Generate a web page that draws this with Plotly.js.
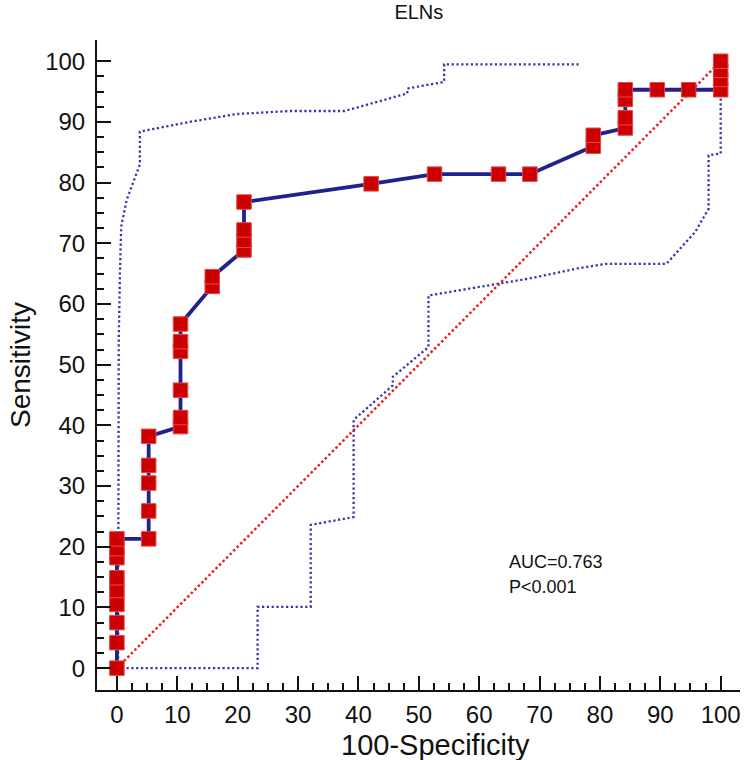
<!DOCTYPE html>
<html>
<head>
<meta charset="utf-8">
<script src="https://cdn.plot.ly/plotly-3.0.1.min.js"></script>
<style>html,body{margin:0;padding:0;background:#fff;}#chart{width:752px;height:760px;}</style>
</head>
<body>
<div id="chart"></div>
<script>
// ROC curve points (100-Specificity, Sensitivity)
const rocX = [0,0,0,0,0,0,0,0,0,
  5.26,5.26,5.26,5.26,5.26,
  10.53,10.53,10.53,10.53,10.53,10.53,
  15.79,15.79,
  21.05,21.05,21.05,21.05,
  42.1,52.6,63.2,68.4,
  78.9,78.9,
  84.2,84.2,84.2,84.2,
  89.5,94.7,
  100,100,100,100];
const rocY = [0,4.2,7.5,10.5,12.8,14.9,18.2,19.7,21.3,
  21.3,25.9,30.5,33.4,38.2,
  39.8,41.3,45.8,52.2,53.8,56.7,
  62.9,64.5,
  68.9,70.5,72.2,76.8,
  79.8,81.4,81.4,81.4,
  86.0,87.8,
  89.0,90.7,93.7,95.3,
  95.3,95.3,
  95.3,97.0,98.5,100];

// Upper confidence bound
const upperX = [0.2,0.3,0.5,0.7,1.6,3.3,3.8,3.8,4.3,12,19.8,28.6,37.7,48.1,48.1,54.2,54.2,76.8];
const upperY = [0,54,65,72.7,77.1,81.5,83,88.4,88.5,90,91.3,91.8,91.8,94.7,95.5,96.6,99.5,99.5];

// Lower confidence bound
const lowerX = [0,23.3,23.3,32.1,32.1,39.2,39.2,45.7,45.7,51.6,51.6,63.3,68.3,76.5,80.9,91,95.8,98,98,100,100];
const lowerY = [0,0,10.1,10.1,23.6,24.9,40.9,46.6,48,52.9,61.4,63.4,64.2,65.9,66.6,66.6,71.9,75.7,84.5,84.8,94.1];

// Reference diagonal
const diagX = [0,100];
const diagY = [0,100];

const majorTicks = [0,10,20,30,40,50,60,70,80,90,100];
const tickLabels = ['0','10','20','30','40','50','60','70','80','90','100'];
const minorTicks = [];
for (let v = 2.5; v < 100; v += 2.5) { if (v % 10 !== 0) minorTicks.push(v); }

const FONT = 'Liberation Sans, Arial, Helvetica, sans-serif';

const traces = [
  {x: upperX, y: upperY, mode: 'lines', hoverinfo: 'skip',
   line: {color: '#3535aa', width: 2.3, dash: '2.2px,2.6px'}},
  {x: lowerX, y: lowerY, mode: 'lines', hoverinfo: 'skip',
   line: {color: '#3535aa', width: 2.3, dash: '2.2px,2.6px'}},
  {x: diagX, y: diagY, mode: 'lines', hoverinfo: 'skip',
   line: {color: '#ee1c1c', width: 2.5, dash: '2.4px,2.6px'}},
  {x: rocX, y: rocY, mode: 'lines+markers',
   line: {color: '#20208f', width: 3.8},
   marker: {symbol: 'square', size: 14.5, color: '#cc0000', line: {color: '#e04848', width: 1}}}
];

const axisCommon = {
  tickmode: 'array', tickvals: majorTicks, ticktext: tickLabels,
  ticks: 'inside', ticklen: 14, tickwidth: 2, tickcolor: '#111',
  showline: true, linewidth: 2, linecolor: '#111',
  showgrid: false, zeroline: false,
  tickfont: {family: FONT, size: 24, color: '#111'},
  minor: {tickmode: 'array', tickvals: minorTicks, ticks: 'inside', ticklen: 7, tickwidth: 2, tickcolor: '#111', showgrid: false}
};

const layout = {
  width: 752, height: 760,
  margin: {l: 97, r: 12, t: 40, b: 70},
  paper_bgcolor: '#fff', plot_bgcolor: '#fff',
  showlegend: false,
  title: {text: 'ELNs', font: {family: FONT, size: 20, color: '#111'},
          xref: 'container', x: 0.557, xanchor: 'center', yref: 'container', y: 0.984, yanchor: 'middle'},
  xaxis: Object.assign({}, axisCommon, {
    range: [-3.3, 103.2],
    ticklabelstandoff: 2
  }),
  yaxis: Object.assign({}, axisCommon, {
    range: [-3.6, 103.5],
    ticklabelstandoff: 5,
    title: {text: 'Sensitivity', font: {family: FONT, size: 28, color: '#111'}, standoff: 6}
  }),
  annotations: [
    {x: 0.5257, y: -0.085, xref: 'paper', yref: 'paper', text: '100-Specificity', showarrow: false,
     xanchor: 'center', yanchor: 'middle', font: {family: FONT, size: 29, color: '#111'}},
    {x: 64.6, y: 17.5, xref: 'x', yref: 'y', text: 'AUC=0.763', showarrow: false,
     xanchor: 'left', yanchor: 'middle', font: {family: FONT, size: 18, color: '#111'}},
    {x: 64.6, y: 13.3, xref: 'x', yref: 'y', text: 'P&lt;0.001', showarrow: false,
     xanchor: 'left', yanchor: 'middle', font: {family: FONT, size: 18, color: '#111'}}
  ]
};

Plotly.newPlot('chart', traces, layout, {staticPlot: true, displayModeBar: false});
</script>
</body>
</html>
